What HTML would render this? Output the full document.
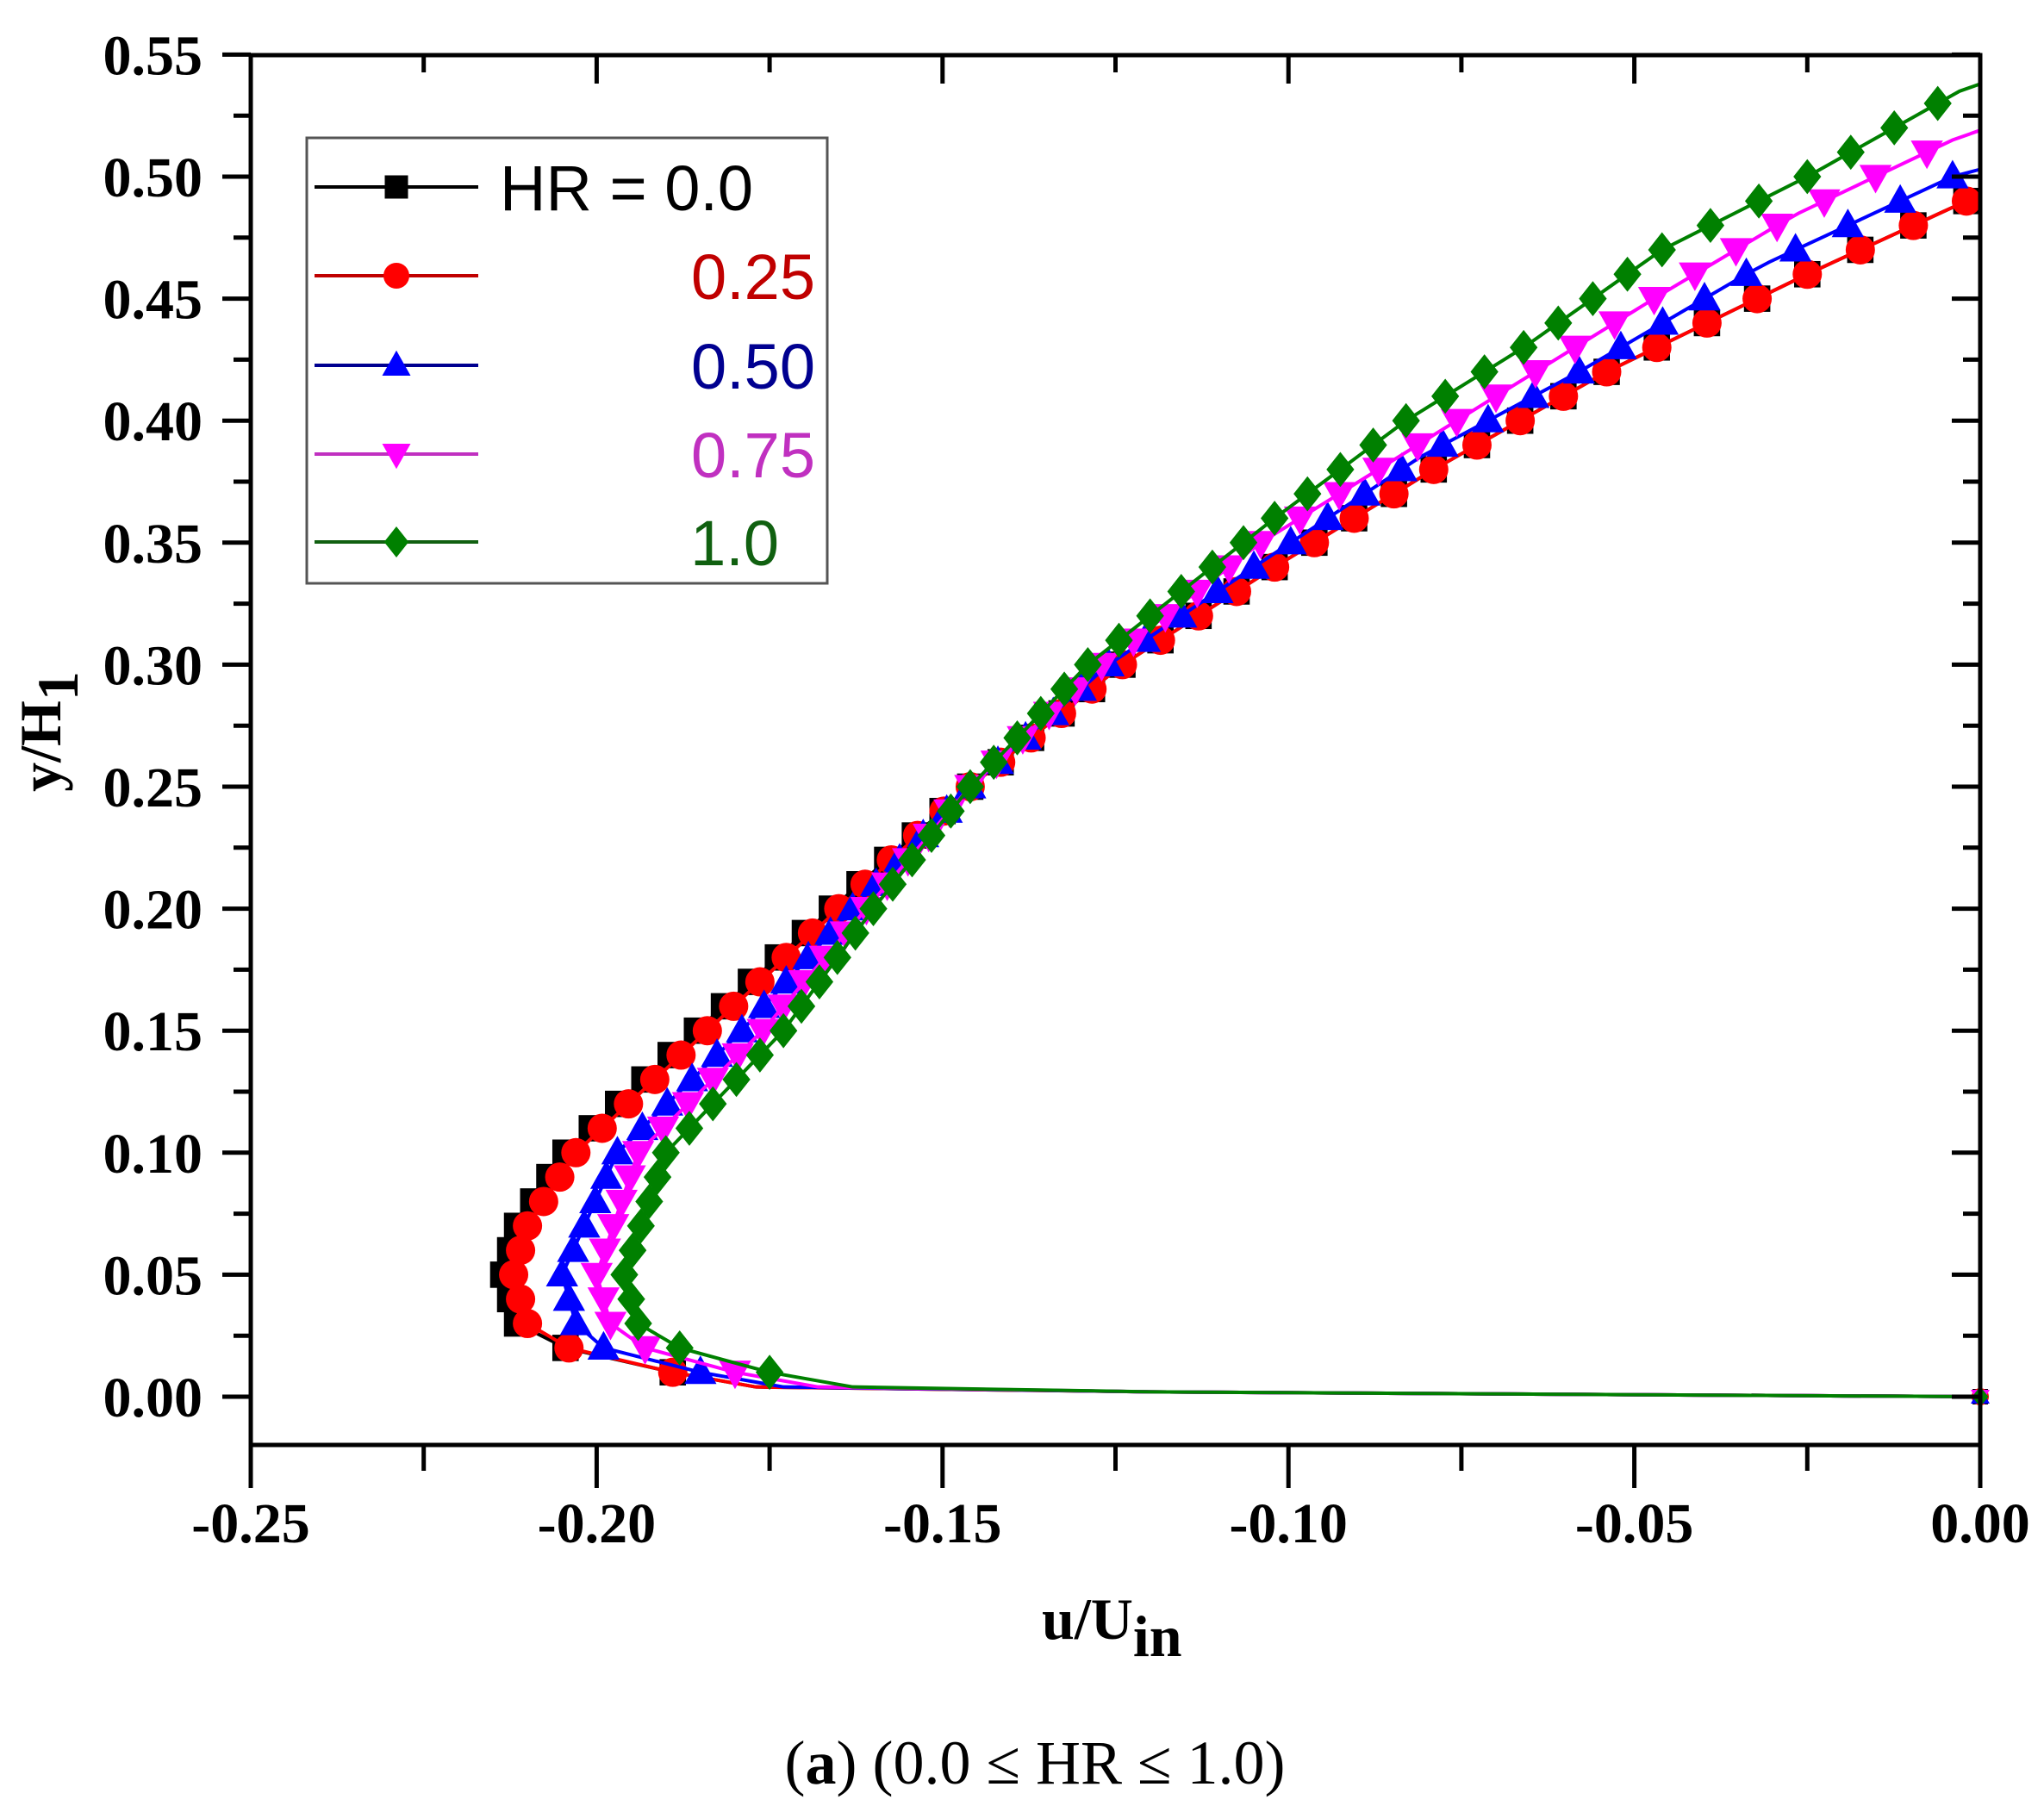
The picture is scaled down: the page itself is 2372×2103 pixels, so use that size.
<!DOCTYPE html>
<html><head><meta charset="utf-8"><style>
html,body{margin:0;padding:0;background:#fff;}
svg{display:block;}
</style></head><body>
<svg id="s" width="2372" height="2103" viewBox="0 0 2372 2103" xmlns="http://www.w3.org/2000/svg">
<rect width="2372" height="2103" fill="#fff"/>
<g id="data"></g>
<g id="axes" stroke="#000" fill="none"></g>
<g id="txt" font-family="Liberation Serif, serif" font-weight="bold" font-size="66" fill="#000"></g>
<rect x="356" y="160" width="604" height="517" fill="none" stroke="#555" stroke-width="3"/>
<g font-family="Liberation Sans, sans-serif" font-size="74">
<text x="580" y="244" fill="#000">HR = 0.0</text>
<text x="946" y="347" fill="#c00000" text-anchor="end">0.25</text>
<text x="946" y="451" fill="#000090" text-anchor="end">0.50</text>
<text x="946" y="554" fill="#c030c0" text-anchor="end">0.75</text>
<text x="904" y="656" fill="#106010" text-anchor="end">1.0</text>
</g>
<g id="leg"></g>
<text x="1209" y="1902" font-family="Liberation Serif, serif" font-weight="bold" font-size="68">u/U<tspan font-size="68" dy="20">in</tspan></text>
<text transform="translate(70,849) rotate(-90)" text-anchor="middle" font-family="Liberation Serif, serif" font-weight="bold" font-size="68">y/H<tspan dy="20">1</tspan></text>
<text x="1201" y="2070" text-anchor="middle" font-family="Liberation Serif, serif" font-size="72">(<tspan font-weight="bold">a</tspan>) (0.0 ≤ HR ≤ 1.0)</text>
</svg>
<script>
const NS="http://www.w3.org/2000/svg";
const L=291,R=2298,T=64,B=1677;
const X=u=>R+u*8028, Y=y=>1621-y*2832;
function el(p,t,a){const e=document.createElementNS(NS,t);for(const k in a)e.setAttribute(k,a[k]);p.appendChild(e);return e;}
const ax=document.getElementById('axes'),tx=document.getElementById('txt');
el(ax,'rect',{x:L,y:T,width:R-L,height:B-T,'stroke-width':5});
for(let i=0;i<=23;i++){const v=-0.025+i*0.025;const y=Y(v);if(y<T-1||y>B+1)continue;
 const maj=Math.abs(Math.round(v/0.05)*0.05-v)<1e-6;const len=maj?33:20;
 el(ax,'line',{x1:L-len,y1:y,x2:L,y2:y,'stroke-width':5});
 el(ax,'line',{x1:R,y1:y,x2:R-len,y2:y,'stroke-width':5});
 if(maj){const t=el(tx,'text',{x:235,y:y+23,'text-anchor':'end'});t.textContent=v.toFixed(2);}
}
for(let i=0;i<=10;i++){const v=-0.25+i*0.025;const x=X(v);const maj=i%2==0;const len=maj?50:30;
 el(ax,'line',{x1:x,y1:B,x2:x,y2:B+len,'stroke-width':5});
 el(ax,'line',{x1:x,y1:T,x2:x,y2:T+(maj?33:20),'stroke-width':5});
 if(maj){const t=el(tx,'text',{x:x,y:1790,'text-anchor':'middle'});t.textContent=v.toFixed(2);}
}
const RB=[[0.25,-0.146],[0.30,-0.124],[0.34,-0.102],[0.38,-0.079],[0.42,-0.054],[0.46,-0.025],[0.49,-0.002],[0.492,0]];
const S=[
 {c:'#000',m:'sq',top:0.49,p:[[0.01,-0.189],[0.02,-0.2045],[0.03,-0.2115],[0.05,-0.2135],[0.07,-0.2115],[0.10,-0.2045],[0.15,-0.1855],[0.20,-0.166]].concat(RB)},
 {c:'#ff0000',m:'ci',top:0.49,p:[[0.01,-0.189],[0.02,-0.204],[0.03,-0.210],[0.05,-0.212],[0.07,-0.210],[0.10,-0.203],[0.15,-0.184],[0.20,-0.165]].concat(RB)},
 {c:'#0000ff',m:'tu',top:0.50,p:[[0.01,-0.185],[0.02,-0.199],[0.03,-0.203],[0.05,-0.205],[0.10,-0.197],[0.15,-0.179],[0.20,-0.163],[0.25,-0.146],[0.30,-0.126],[0.34,-0.105],[0.385,-0.081],[0.42,-0.058],[0.463,-0.032],[0.50,-0.004],[0.503,0]]},
 {c:'#ff00ff',m:'td',top:0.51,p:[[0.01,-0.180],[0.02,-0.193],[0.03,-0.198],[0.05,-0.200],[0.10,-0.194],[0.15,-0.176],[0.20,-0.161],[0.25,-0.146],[0.30,-0.127],[0.35,-0.104],[0.41,-0.070],[0.452,-0.046],[0.484,-0.027],[0.515,-0.004],[0.519,0]]},
 {c:'#008000',m:'di',top:0.53,p:[[0.01,-0.175],[0.02,-0.188],[0.03,-0.194],[0.05,-0.196],[0.10,-0.190],[0.15,-0.173],[0.20,-0.160],[0.25,-0.146],[0.30,-0.129],[0.36,-0.102],[0.40,-0.083],[0.43,-0.066],[0.47,-0.046],[0.50,-0.025],[0.535,-0.003],[0.538,0]]}
];
function interp(p,y){if(y<=p[0][0])return p[0][1];for(let i=0;i<p.length-1;i++){if(y>=p[i][0]-1e-9&&y<=p[i+1][0]+1e-9){const t=(y-p[i][0])/(p[i+1][0]-p[i][0]);return p[i][1]+t*(p[i+1][1]-p[i][1]);}}return p[p.length-1][1];}
function mark(g,m,x,y,c,r){
 if(m=='sq')el(g,'rect',{x:x-r*0.9,y:y-r*0.9,width:r*1.8,height:r*1.8,fill:c});
 else if(m=='ci')el(g,'circle',{cx:x,cy:y,r:r,fill:c});
 else if(m=='tu')el(g,'polygon',{points:`${x},${y-r*1.15} ${x-r*1.1},${y+r*0.8} ${x+r*1.1},${y+r*0.8}`,fill:c});
 else if(m=='td')el(g,'polygon',{points:`${x},${y+r*1.15} ${x-r*1.1},${y-r*0.8} ${x+r*1.1},${y-r*0.8}`,fill:c});
 else el(g,'polygon',{points:`${x},${y-r*1.2} ${x+r*0.95},${y} ${x},${y+r*1.2} ${x-r*0.95},${y}`,fill:c});
}
const dg=document.getElementById('data');
S.forEach(s=>{
 const last=s.p[s.p.length-1][0];
 const pts=[[X(0),Y(0)],[X(-0.12),Y(0.002)],[X(s.p[0][1]+0.012),Y(0.004)]];
 for(let y=0.01;y<=last+1e-6;y+=0.005)pts.push([X(interp(s.p,y)),Y(y)]);
 pts.push([X(0),Y(last)]);
 el(dg,'polyline',{points:pts.map(p=>p.join(',')).join(' '),fill:'none',stroke:s.c,'stroke-width':4});
 for(let y=0.01;y<=s.top+1e-6;y+=0.01)mark(dg,s.m,X(interp(s.p,y)),Y(y),s.c,17);
 mark(dg,s.m,X(0),Y(0),s.c,10);
});
const lg=document.getElementById('leg');
const rows=[217,320,424,527,629];
const cols=['#000','#c00000','#000090','#c030c0','#106010'];
const mcols=['#000','#ff0000','#0000ff','#ff00ff','#008000'];
S.forEach((s,i)=>{el(lg,'line',{x1:365,y1:rows[i],x2:555,y2:rows[i],stroke:cols[i],'stroke-width':4});mark(lg,s.m,460,rows[i],mcols[i],15);});
</script>
</body></html>
